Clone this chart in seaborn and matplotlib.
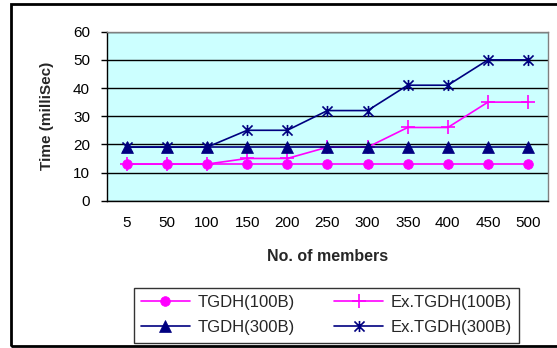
import pandas as pd
import numpy as np
import seaborn as sns
import matplotlib.pyplot as plt
from matplotlib.patches import Rectangle
from matplotlib.path import Path
from matplotlib.ticker import FixedLocator

members = ['5', '50', '100', '150', '200', '250', '300', '350', '400', '450', '500']
tgdh_100 = [13, 13, 13, 13, 13, 13, 13, 13, 13, 13, 13]
ex_tgdh_100 = [13, 13, 13, 15, 15, 19, 19, 26, 26, 35, 35]
tgdh_300 = [19, 19, 19, 19, 19, 19, 19, 19, 19, 19, 19]
ex_tgdh_300 = [19, 19, 19, 25, 25, 32, 32, 41, 41, 50, 50]

series = {
    'TGDH(100B)': tgdh_100,
    'Ex.TGDH(100B)': ex_tgdh_100,
    'TGDH(300B)': tgdh_300,
    'Ex.TGDH(300B)': ex_tgdh_300,
}
rows = []
for name, vals in series.items():
    for i, v in enumerate(vals):
        rows.append({'idx': i, 'time': v, 'series': name})
df = pd.DataFrame(rows)

sns.set_style('white')
plt.rcParams['font.family'] = ['Liberation Sans', 'DejaVu Sans']

# excel-like star: an X plus a vertical bar
star = Path([(-1, -1), (1, 1), (-1, 1), (1, -1), (0, -1.1), (0, 1.1)],
            [Path.MOVETO, Path.LINETO, Path.MOVETO, Path.LINETO, Path.MOVETO, Path.LINETO])

fig = plt.figure(figsize=(5.57, 3.48), dpi=100)
ax = fig.add_axes([106.7 / 557, 1 - 200.7 / 348, 441.5 / 557, 169 / 348])

palette = {'TGDH(100B)': '#FF00FF', 'Ex.TGDH(100B)': '#FF00FF',
           'TGDH(300B)': '#000080', 'Ex.TGDH(300B)': '#000080'}
markers = {'TGDH(100B)': 'o', 'Ex.TGDH(100B)': '+',
           'TGDH(300B)': '^', 'Ex.TGDH(300B)': star}
sizes = {'TGDH(100B)': 7, 'Ex.TGDH(100B)': 10,
         'TGDH(300B)': 8, 'Ex.TGDH(300B)': 8}

for name in series:
    sub = df[df.series == name]
    sns.lineplot(data=sub, x='idx', y='time', ax=ax, color=palette[name],
                 marker=markers[name], markersize=sizes[name],
                 markeredgewidth=1.2 if name.startswith('Ex') else 0.5,
                 markeredgecolor=palette[name], linewidth=1.2,
                 label=name, legend=False)

ax.set_facecolor('#CCFFFF')
ax.set_xlim(-0.5, 10.5)
ax.set_ylim(0, 60)
ax.set_yticks(range(0, 61, 10))
ax.yaxis.grid(True, color='black', linewidth=1)
ax.xaxis.grid(False)
ax.set_axisbelow(True)

ax.set_xticks(range(len(members)))
ax.set_xticklabels(members)
ax.xaxis.set_minor_locator(FixedLocator(np.arange(-0.5, 11, 1)))
ax.tick_params(axis='x', which='major', length=0, pad=11, labelsize=11, colors='black')
ax.tick_params(axis='x', which='minor', length=4, width=1, direction='out', color='black')
ax.tick_params(axis='y', length=4, width=1, direction='out', pad=8, labelsize=11, colors='black', left=True)

for side in ['top', 'right']:
    ax.spines[side].set_color('#808080')
    ax.spines[side].set_linewidth(1)
for side in ['left', 'bottom']:
    ax.spines[side].set_color('black')
    ax.spines[side].set_linewidth(1)

ax.set_xlabel('No. of members', fontsize=11.5, fontweight='bold')
ax.set_ylabel('Time (milliSec)', fontsize=11, fontweight='bold')
ax.xaxis.set_label_coords(0.5, -0.286)
ax.yaxis.set_label_coords(-0.119, 0.5)

handles, labels = ax.get_legend_handles_labels()
order = [labels.index(n) for n in ['TGDH(100B)', 'TGDH(300B)', 'Ex.TGDH(100B)', 'Ex.TGDH(300B)']]
leg = fig.legend([handles[i] for i in order], [labels[i] for i in order],
                 loc='center', bbox_to_anchor=(0.586, 0.0948), ncol=2,
                 fontsize=12, frameon=True, fancybox=False, handlelength=2.9,
                 handletextpad=0.45, columnspacing=2.4, borderpad=0.45,
                 labelspacing=0.6)
leg.get_frame().set_edgecolor('black')
leg.get_frame().set_linewidth(1)

fig.patches.append(Rectangle((11 / 557, 1 - 346 / 348), 0.99, (346 - 4) / 348,
                             transform=fig.transFigure, fill=False,
                             edgecolor='black', linewidth=2))

fig.savefig('out.png', dpi=100)
